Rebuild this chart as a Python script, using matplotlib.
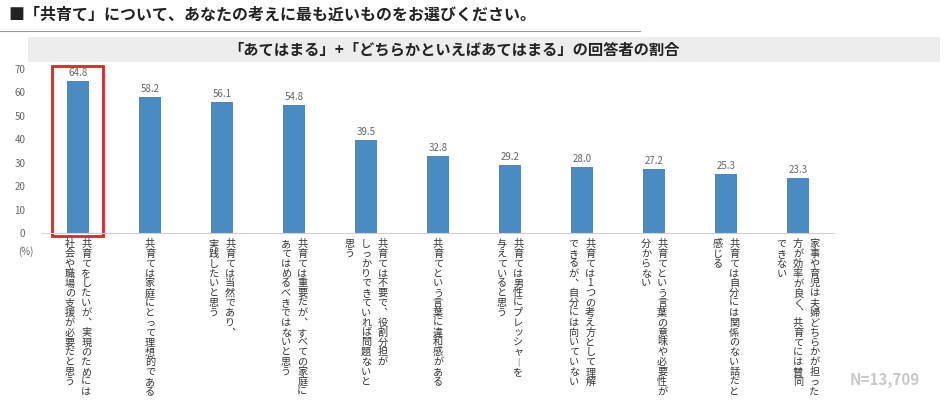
import matplotlib
matplotlib.use("Agg")
import matplotlib.pyplot as plt
from matplotlib.patches import Rectangle
from matplotlib.transforms import offset_copy

plt.rcParams["font.family"] = ["Noto Sans CJK JP", "DejaVu Sans"]

categories = [
    "共育てをしたいが、実現のためには\n社会や職場の支援が必要だと思う",
    "共育ては家庭にとって理想的である",
    "共育ては当然であり、\n実践したいと思う",
    "共育ては重要だが、すべての家庭に\nあてはめるべきではないと思う",
    "共育ては不要で、役割分担が\nしっかりできていれば問題ないと\n思う",
    "共育てという言葉に違和感がある",
    "共育ては男性にプレッシャーを\n与えていると思う",
    "共育ては1つの考え方として理解\nできるが、自分には向いていない",
    "共育てという言葉の意味や必要性が\n分からない",
    "共育ては自分には関係のない話だと\n感じる",
    "家事や育児は夫婦どちらかが担った\n方が効率が良く、共育てには賛同\nできない",
]
values = [64.8, 58.2, 56.1, 54.8, 39.5, 32.8, 29.2, 28.0, 27.2, 25.3, 23.3]
yticks = [0, 10, 20, 30, 40, 50, 60, 70]

fig = plt.figure(figsize=(9.45, 4.01), dpi=100)
W, H = 945, 401
ax = fig.add_axes([42 / W, 1 - 233 / H, 792 / W, (233 - 69) / H])

x = list(range(len(values)))
ax.bar(x, values, width=0.31, color="#4a8bc2")
for xi, v in zip(x, values):
    ax.text(xi, v + 1.3, f"{v:.1f}", ha="center", va="bottom", fontsize=7, color="#666666")
ax.set_xlim(-0.5, len(values) - 0.5)
ax.set_ylim(0, 70)
ax.set_yticks(yticks)
ax.set_yticklabels([str(t) for t in yticks], fontsize=7, color="#666666")
ax.set_xticks([])
for s in ["top", "right", "left"]:
    ax.spines[s].set_visible(False)
ax.spines["bottom"].set_color("#d0d0d0")
ax.tick_params(axis="y", length=0, pad=12)

vmap = {"、": "︑", "ー": "︱"}
col_gap = 16  # pixels == points at dpi 72? use points conversion
for xi, lab in zip(x, categories):
    lines = lab.split("\n")
    n = len(lines)
    for j, line in enumerate(lines):
        dx_px = ((n - 1) / 2 - j) * 16.5
        tr = offset_copy(ax.transData, fig=fig, x=dx_px * 72 / 100, y=-6 * 72 / 100, units="points")
        vert = "\n".join(vmap.get(c, c) for c in line)
        ax.text(xi, 0, vert, transform=tr, ha="center", va="top", multialignment="center",
                fontsize=7.3, color="#333333", linespacing=0.98, clip_on=False)

ax.add_patch(Rectangle((-0.36, -1.2), 0.71, 72.5, fill=False, edgecolor="#e8201e",
                       linewidth=2, clip_on=False))
ax.text(-0.72, -8, "(%)", fontsize=7, color="#666666", ha="center", va="center")

fig.text(8 / W, 1 - 15 / H, "■「共育て」について、あなたの考えに最も近いものをお選びください。",
         fontsize=11.5, fontweight="bold", color="#222222", va="center")
fig.add_artist(plt.Line2D([0, 640 / W], [1 - 31 / H] * 2, color="#999999", linewidth=0.8))
fig.add_artist(Rectangle((28 / W, 1 - 62 / H), 912 / W, 25 / H, facecolor="#ededed",
                         edgecolor="none", transform=fig.transFigure, zorder=0))
fig.text(680 / W, 1 - 49 / H, "「あてはまる」+「どちらかといえばあてはまる」の回答者の割合",
         fontsize=11, fontweight="bold", color="#222222", va="center", ha="right")
fig.text(920 / W, 1 - 380 / H, "N=13,709", fontsize=11, fontweight="bold", color="#c8c8c8",
         ha="right", va="center")

fig.savefig("out.png", dpi=100)
